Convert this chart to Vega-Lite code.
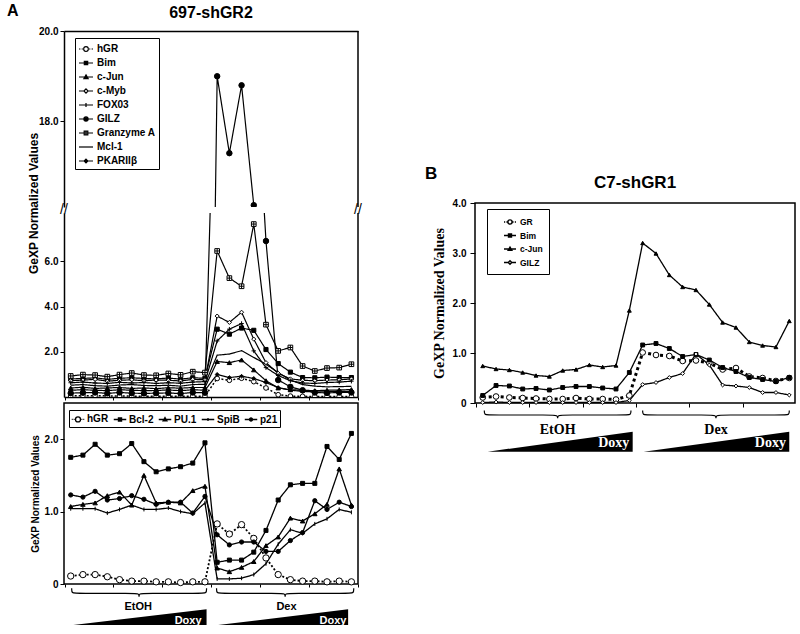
{
"$schema":"https://vega.github.io/schema/vega-lite/v6.json",
"padding":{"left":7,"top":3,"right":0,"bottom":0},
"background":"white",
"config":{
 "font":"Liberation Sans",
 "view":{"stroke":null},
 "axis":{"grid":false,"domainColor":"black","domainWidth":1.5,"tickColor":"black","tickWidth":1,"tickSize":4,"labelPadding":2,"labelColor":"black","labelFont":"Liberation Sans","labelFontWeight":"bold","labelFontSize":10,"titleColor":"black","titleFont":"Liberation Sans","titleFontWeight":"bold","titleFontSize":11},
 "title":{"font":"Liberation Sans","fontWeight":"bold","color":"black","fontSize":16},
 "legend":{"strokeColor":"black","fillColor":"white","labelFont":"Liberation Sans","labelFontWeight":"bold","labelColor":"black","cornerRadius":0,"symbolStrokeColor":"black","symbolOpacity":1}
},
"datasets":{
"a1":[
{"s":"hGR","i":0,"v":0.05},{"s":"hGR","i":1,"v":0.06},{"s":"hGR","i":2,"v":0.06},{"s":"hGR","i":3,"v":0.05},{"s":"hGR","i":4,"v":0.04},{"s":"hGR","i":5,"v":0.04},{"s":"hGR","i":6,"v":0.03},{"s":"hGR","i":7,"v":0.03},{"s":"hGR","i":8,"v":0.04},{"s":"hGR","i":9,"v":0.03},{"s":"hGR","i":10,"v":0.03},{"s":"hGR","i":11,"v":0.04},{"s":"hGR","i":12,"v":0.82},{"s":"hGR","i":13,"v":0.74},{"s":"hGR","i":14,"v":0.83},{"s":"hGR","i":15,"v":0.68},{"s":"hGR","i":16,"v":0.4},{"s":"hGR","i":17,"v":0.1},{"s":"hGR","i":18,"v":0.04},{"s":"hGR","i":19,"v":0.03},{"s":"hGR","i":20,"v":0.02},{"s":"hGR","i":21,"v":0.03},{"s":"hGR","i":22,"v":0.02},{"s":"hGR","i":23,"v":0.02},
{"s":"Bim","i":0,"v":0.8},{"s":"Bim","i":1,"v":0.82},{"s":"Bim","i":2,"v":0.85},{"s":"Bim","i":3,"v":0.78},{"s":"Bim","i":4,"v":0.83},{"s":"Bim","i":5,"v":0.85},{"s":"Bim","i":6,"v":0.82},{"s":"Bim","i":7,"v":0.8},{"s":"Bim","i":8,"v":0.84},{"s":"Bim","i":9,"v":0.79},{"s":"Bim","i":10,"v":0.85},{"s":"Bim","i":11,"v":0.83},{"s":"Bim","i":12,"v":3.0},{"s":"Bim","i":13,"v":2.78},{"s":"Bim","i":14,"v":3.05},{"s":"Bim","i":15,"v":2.95},{"s":"Bim","i":16,"v":2.1},{"s":"Bim","i":17,"v":1.48},{"s":"Bim","i":18,"v":1.1},{"s":"Bim","i":19,"v":0.86},{"s":"Bim","i":20,"v":0.85},{"s":"Bim","i":21,"v":0.88},{"s":"Bim","i":22,"v":0.86},{"s":"Bim","i":23,"v":0.86},
{"s":"c-Jun","i":0,"v":0.4},{"s":"c-Jun","i":1,"v":0.43},{"s":"c-Jun","i":2,"v":0.38},{"s":"c-Jun","i":3,"v":0.4},{"s":"c-Jun","i":4,"v":0.42},{"s":"c-Jun","i":5,"v":0.38},{"s":"c-Jun","i":6,"v":0.4},{"s":"c-Jun","i":7,"v":0.37},{"s":"c-Jun","i":8,"v":0.41},{"s":"c-Jun","i":9,"v":0.39},{"s":"c-Jun","i":10,"v":0.42},{"s":"c-Jun","i":11,"v":0.42},{"s":"c-Jun","i":12,"v":1.57},{"s":"c-Jun","i":13,"v":1.52},{"s":"c-Jun","i":14,"v":1.64},{"s":"c-Jun","i":15,"v":1.2},{"s":"c-Jun","i":16,"v":0.72},{"s":"c-Jun","i":17,"v":0.4},{"s":"c-Jun","i":18,"v":0.32},{"s":"c-Jun","i":19,"v":0.3},{"s":"c-Jun","i":20,"v":0.28},{"s":"c-Jun","i":21,"v":0.3},{"s":"c-Jun","i":22,"v":0.31},{"s":"c-Jun","i":23,"v":0.33},
{"s":"c-Myb","i":0,"v":0.72},{"s":"c-Myb","i":1,"v":0.75},{"s":"c-Myb","i":2,"v":0.78},{"s":"c-Myb","i":3,"v":0.7},{"s":"c-Myb","i":4,"v":0.74},{"s":"c-Myb","i":5,"v":0.76},{"s":"c-Myb","i":6,"v":0.72},{"s":"c-Myb","i":7,"v":0.75},{"s":"c-Myb","i":8,"v":0.74},{"s":"c-Myb","i":9,"v":0.71},{"s":"c-Myb","i":10,"v":0.78},{"s":"c-Myb","i":11,"v":0.76},{"s":"c-Myb","i":12,"v":3.58},{"s":"c-Myb","i":13,"v":3.3},{"s":"c-Myb","i":14,"v":3.75},{"s":"c-Myb","i":15,"v":2.56},{"s":"c-Myb","i":16,"v":1.52},{"s":"c-Myb","i":17,"v":1.05},{"s":"c-Myb","i":18,"v":0.8},{"s":"c-Myb","i":19,"v":0.74},{"s":"c-Myb","i":20,"v":0.72},{"s":"c-Myb","i":21,"v":0.75},{"s":"c-Myb","i":22,"v":0.76},{"s":"c-Myb","i":23,"v":0.8},
{"s":"FOX03","i":0,"v":0.63},{"s":"FOX03","i":1,"v":0.66},{"s":"FOX03","i":2,"v":0.62},{"s":"FOX03","i":3,"v":0.6},{"s":"FOX03","i":4,"v":0.65},{"s":"FOX03","i":5,"v":0.62},{"s":"FOX03","i":6,"v":0.64},{"s":"FOX03","i":7,"v":0.6},{"s":"FOX03","i":8,"v":0.63},{"s":"FOX03","i":9,"v":0.61},{"s":"FOX03","i":10,"v":0.66},{"s":"FOX03","i":11,"v":0.68},{"s":"FOX03","i":12,"v":2.48},{"s":"FOX03","i":13,"v":3.0},{"s":"FOX03","i":14,"v":3.25},{"s":"FOX03","i":15,"v":2.04},{"s":"FOX03","i":16,"v":1.3},{"s":"FOX03","i":17,"v":0.95},{"s":"FOX03","i":18,"v":0.72},{"s":"FOX03","i":19,"v":0.62},{"s":"FOX03","i":20,"v":0.6},{"s":"FOX03","i":21,"v":0.64},{"s":"FOX03","i":22,"v":0.66},{"s":"FOX03","i":23,"v":0.7},
{"s":"GILZ","i":0,"v":0.17},{"s":"GILZ","i":1,"v":0.19},{"s":"GILZ","i":2,"v":0.2},{"s":"GILZ","i":3,"v":0.16},{"s":"GILZ","i":4,"v":0.2},{"s":"GILZ","i":5,"v":0.17},{"s":"GILZ","i":6,"v":0.16},{"s":"GILZ","i":7,"v":0.17},{"s":"GILZ","i":8,"v":0.18},{"s":"GILZ","i":9,"v":0.15},{"s":"GILZ","i":10,"v":0.2},{"s":"GILZ","i":11,"v":0.19},{"s":"GILZ","i":12,"v":19.0},{"s":"GILZ","i":13,"v":17.3},{"s":"GILZ","i":14,"v":18.8},{"s":"GILZ","i":15,"v":16.15},{"s":"GILZ","i":16,"v":6.9},{"s":"GILZ","i":17,"v":0.75},{"s":"GILZ","i":18,"v":0.45},{"s":"GILZ","i":19,"v":0.3},{"s":"GILZ","i":20,"v":0.2},{"s":"GILZ","i":21,"v":0.18},{"s":"GILZ","i":22,"v":0.2},{"s":"GILZ","i":23,"v":0.2},
{"s":"Granzyme A","i":0,"v":0.93},{"s":"Granzyme A","i":1,"v":0.99},{"s":"Granzyme A","i":2,"v":0.97},{"s":"Granzyme A","i":3,"v":0.9},{"s":"Granzyme A","i":4,"v":0.99},{"s":"Granzyme A","i":5,"v":1.06},{"s":"Granzyme A","i":6,"v":0.97},{"s":"Granzyme A","i":7,"v":0.96},{"s":"Granzyme A","i":8,"v":1.04},{"s":"Granzyme A","i":9,"v":0.98},{"s":"Granzyme A","i":10,"v":1.12},{"s":"Granzyme A","i":11,"v":1.08},{"s":"Granzyme A","i":12,"v":6.46},{"s":"Granzyme A","i":13,"v":5.26},{"s":"Granzyme A","i":14,"v":4.9},{"s":"Granzyme A","i":15,"v":7.65},{"s":"Granzyme A","i":16,"v":3.2},{"s":"Granzyme A","i":17,"v":2.04},{"s":"Granzyme A","i":18,"v":2.19},{"s":"Granzyme A","i":19,"v":1.37},{"s":"Granzyme A","i":20,"v":1.15},{"s":"Granzyme A","i":21,"v":1.28},{"s":"Granzyme A","i":22,"v":1.3},{"s":"Granzyme A","i":23,"v":1.45},
{"s":"Mcl-1","i":0,"v":0.52},{"s":"Mcl-1","i":1,"v":0.55},{"s":"Mcl-1","i":2,"v":0.5},{"s":"Mcl-1","i":3,"v":0.48},{"s":"Mcl-1","i":4,"v":0.53},{"s":"Mcl-1","i":5,"v":0.55},{"s":"Mcl-1","i":6,"v":0.51},{"s":"Mcl-1","i":7,"v":0.5},{"s":"Mcl-1","i":8,"v":0.52},{"s":"Mcl-1","i":9,"v":0.48},{"s":"Mcl-1","i":10,"v":0.55},{"s":"Mcl-1","i":11,"v":0.56},{"s":"Mcl-1","i":12,"v":1.85},{"s":"Mcl-1","i":13,"v":1.9},{"s":"Mcl-1","i":14,"v":2.05},{"s":"Mcl-1","i":15,"v":1.75},{"s":"Mcl-1","i":16,"v":1.45},{"s":"Mcl-1","i":17,"v":1.08},{"s":"Mcl-1","i":18,"v":0.75},{"s":"Mcl-1","i":19,"v":0.55},{"s":"Mcl-1","i":20,"v":0.48},{"s":"Mcl-1","i":21,"v":0.45},{"s":"Mcl-1","i":22,"v":0.46},{"s":"Mcl-1","i":23,"v":0.47},
{"s":"PKARIIβ","i":0,"v":0.3},{"s":"PKARIIβ","i":1,"v":0.32},{"s":"PKARIIβ","i":2,"v":0.3},{"s":"PKARIIβ","i":3,"v":0.28},{"s":"PKARIIβ","i":4,"v":0.32},{"s":"PKARIIβ","i":5,"v":0.3},{"s":"PKARIIβ","i":6,"v":0.28},{"s":"PKARIIβ","i":7,"v":0.29},{"s":"PKARIIβ","i":8,"v":0.31},{"s":"PKARIIβ","i":9,"v":0.28},{"s":"PKARIIβ","i":10,"v":0.32},{"s":"PKARIIβ","i":11,"v":0.3},{"s":"PKARIIβ","i":12,"v":1.0},{"s":"PKARIIβ","i":13,"v":0.86},{"s":"PKARIIβ","i":14,"v":0.92},{"s":"PKARIIβ","i":15,"v":0.82},{"s":"PKARIIβ","i":16,"v":0.64},{"s":"PKARIIβ","i":17,"v":0.42},{"s":"PKARIIβ","i":18,"v":0.3},{"s":"PKARIIβ","i":19,"v":0.25},{"s":"PKARIIβ","i":20,"v":0.22},{"s":"PKARIIβ","i":21,"v":0.23},{"s":"PKARIIβ","i":22,"v":0.25},{"s":"PKARIIβ","i":23,"v":0.25}
],
"a2":[
{"s":"hGR","i":0,"v":0.11},{"s":"hGR","i":1,"v":0.13},{"s":"hGR","i":2,"v":0.13},{"s":"hGR","i":3,"v":0.1},{"s":"hGR","i":4,"v":0.06},{"s":"hGR","i":5,"v":0.04},{"s":"hGR","i":6,"v":0.04},{"s":"hGR","i":7,"v":0.03},{"s":"hGR","i":8,"v":0.03},{"s":"hGR","i":9,"v":0.02},{"s":"hGR","i":10,"v":0.03},{"s":"hGR","i":11,"v":0.03},{"s":"hGR","i":12,"v":0.83},{"s":"hGR","i":13,"v":0.69},{"s":"hGR","i":14,"v":0.82},{"s":"hGR","i":15,"v":0.63},{"s":"hGR","i":16,"v":0.36},{"s":"hGR","i":17,"v":0.13},{"s":"hGR","i":18,"v":0.06},{"s":"hGR","i":19,"v":0.04},{"s":"hGR","i":20,"v":0.04},{"s":"hGR","i":21,"v":0.03},{"s":"hGR","i":22,"v":0.04},{"s":"hGR","i":23,"v":0.03},
{"s":"Bcl-2","i":0,"v":1.75},{"s":"Bcl-2","i":1,"v":1.78},{"s":"Bcl-2","i":2,"v":1.93},{"s":"Bcl-2","i":3,"v":1.78},{"s":"Bcl-2","i":4,"v":1.8},{"s":"Bcl-2","i":5,"v":1.94},{"s":"Bcl-2","i":6,"v":1.69},{"s":"Bcl-2","i":7,"v":1.55},{"s":"Bcl-2","i":8,"v":1.59},{"s":"Bcl-2","i":9,"v":1.62},{"s":"Bcl-2","i":10,"v":1.67},{"s":"Bcl-2","i":11,"v":1.95},{"s":"Bcl-2","i":12,"v":0.3},{"s":"Bcl-2","i":13,"v":0.33},{"s":"Bcl-2","i":14,"v":0.33},{"s":"Bcl-2","i":15,"v":0.44},{"s":"Bcl-2","i":16,"v":0.74},{"s":"Bcl-2","i":17,"v":1.16},{"s":"Bcl-2","i":18,"v":1.37},{"s":"Bcl-2","i":19,"v":1.39},{"s":"Bcl-2","i":20,"v":1.39},{"s":"Bcl-2","i":21,"v":1.9},{"s":"Bcl-2","i":22,"v":1.72},{"s":"Bcl-2","i":23,"v":2.08},
{"s":"PU.1","i":0,"v":1.07},{"s":"PU.1","i":1,"v":1.1},{"s":"PU.1","i":2,"v":1.12},{"s":"PU.1","i":3,"v":1.22},{"s":"PU.1","i":4,"v":1.27},{"s":"PU.1","i":5,"v":1.09},{"s":"PU.1","i":6,"v":1.5},{"s":"PU.1","i":7,"v":1.12},{"s":"PU.1","i":8,"v":1.13},{"s":"PU.1","i":9,"v":1.12},{"s":"PU.1","i":10,"v":1.29},{"s":"PU.1","i":11,"v":1.35},{"s":"PU.1","i":12,"v":0.22},{"s":"PU.1","i":13,"v":0.17},{"s":"PU.1","i":14,"v":0.23},{"s":"PU.1","i":15,"v":0.31},{"s":"PU.1","i":16,"v":0.53},{"s":"PU.1","i":17,"v":0.65},{"s":"PU.1","i":18,"v":0.91},{"s":"PU.1","i":19,"v":0.87},{"s":"PU.1","i":20,"v":0.97},{"s":"PU.1","i":21,"v":1.1},{"s":"PU.1","i":22,"v":1.59},{"s":"PU.1","i":23,"v":1.09},
{"s":"SpiB","i":0,"v":1.04},{"s":"SpiB","i":1,"v":1.04},{"s":"SpiB","i":2,"v":1.04},{"s":"SpiB","i":3,"v":0.98},{"s":"SpiB","i":4,"v":1.03},{"s":"SpiB","i":5,"v":1.09},{"s":"SpiB","i":6,"v":1.03},{"s":"SpiB","i":7,"v":1.03},{"s":"SpiB","i":8,"v":1.05},{"s":"SpiB","i":9,"v":1.0},{"s":"SpiB","i":10,"v":0.97},{"s":"SpiB","i":11,"v":1.12},{"s":"SpiB","i":12,"v":0.07},{"s":"SpiB","i":13,"v":0.07},{"s":"SpiB","i":14,"v":0.08},{"s":"SpiB","i":15,"v":0.13},{"s":"SpiB","i":16,"v":0.28},{"s":"SpiB","i":17,"v":0.55},{"s":"SpiB","i":18,"v":0.75},{"s":"SpiB","i":19,"v":0.7},{"s":"SpiB","i":20,"v":0.83},{"s":"SpiB","i":21,"v":0.9},{"s":"SpiB","i":22,"v":1.03},{"s":"SpiB","i":23,"v":0.99},
{"s":"p21","i":0,"v":1.23},{"s":"p21","i":1,"v":1.2},{"s":"p21","i":2,"v":1.28},{"s":"p21","i":3,"v":1.16},{"s":"p21","i":4,"v":1.18},{"s":"p21","i":5,"v":1.22},{"s":"p21","i":6,"v":1.17},{"s":"p21","i":7,"v":1.1},{"s":"p21","i":8,"v":1.13},{"s":"p21","i":9,"v":1.13},{"s":"p21","i":10,"v":0.98},{"s":"p21","i":11,"v":1.21},{"s":"p21","i":12,"v":0.68},{"s":"p21","i":13,"v":0.54},{"s":"p21","i":14,"v":0.58},{"s":"p21","i":15,"v":0.58},{"s":"p21","i":16,"v":0.45},{"s":"p21","i":17,"v":0.45},{"s":"p21","i":18,"v":0.6},{"s":"p21","i":19,"v":0.71},{"s":"p21","i":20,"v":1.15},{"s":"p21","i":21,"v":1.03},{"s":"p21","i":22,"v":1.13},{"s":"p21","i":23,"v":1.07}
],
"b":[
{"s":"GR","i":0,"v":0.11},{"s":"GR","i":1,"v":0.13},{"s":"GR","i":2,"v":0.11},{"s":"GR","i":3,"v":0.1},{"s":"GR","i":4,"v":0.09},{"s":"GR","i":5,"v":0.08},{"s":"GR","i":6,"v":0.08},{"s":"GR","i":7,"v":0.1},{"s":"GR","i":8,"v":0.08},{"s":"GR","i":9,"v":0.08},{"s":"GR","i":10,"v":0.07},{"s":"GR","i":11,"v":0.15},{"s":"GR","i":12,"v":1.01},{"s":"GR","i":13,"v":0.96},{"s":"GR","i":14,"v":0.94},{"s":"GR","i":15,"v":0.84},{"s":"GR","i":16,"v":0.85},{"s":"GR","i":17,"v":0.8},{"s":"GR","i":18,"v":0.67},{"s":"GR","i":19,"v":0.7},{"s":"GR","i":20,"v":0.53},{"s":"GR","i":21,"v":0.5},{"s":"GR","i":22,"v":0.44},{"s":"GR","i":23,"v":0.5},
{"s":"Bim","i":0,"v":0.15},{"s":"Bim","i":1,"v":0.35},{"s":"Bim","i":2,"v":0.34},{"s":"Bim","i":3,"v":0.28},{"s":"Bim","i":4,"v":0.29},{"s":"Bim","i":5,"v":0.26},{"s":"Bim","i":6,"v":0.31},{"s":"Bim","i":7,"v":0.33},{"s":"Bim","i":8,"v":0.33},{"s":"Bim","i":9,"v":0.3},{"s":"Bim","i":10,"v":0.28},{"s":"Bim","i":11,"v":0.61},{"s":"Bim","i":12,"v":1.16},{"s":"Bim","i":13,"v":1.19},{"s":"Bim","i":14,"v":1.09},{"s":"Bim","i":15,"v":0.93},{"s":"Bim","i":16,"v":0.97},{"s":"Bim","i":17,"v":0.86},{"s":"Bim","i":18,"v":0.71},{"s":"Bim","i":19,"v":0.63},{"s":"Bim","i":20,"v":0.51},{"s":"Bim","i":21,"v":0.47},{"s":"Bim","i":22,"v":0.43},{"s":"Bim","i":23,"v":0.51},
{"s":"c-Jun","i":0,"v":0.74},{"s":"c-Jun","i":1,"v":0.68},{"s":"c-Jun","i":2,"v":0.66},{"s":"c-Jun","i":3,"v":0.61},{"s":"c-Jun","i":4,"v":0.55},{"s":"c-Jun","i":5,"v":0.53},{"s":"c-Jun","i":6,"v":0.65},{"s":"c-Jun","i":7,"v":0.67},{"s":"c-Jun","i":8,"v":0.76},{"s":"c-Jun","i":9,"v":0.72},{"s":"c-Jun","i":10,"v":0.75},{"s":"c-Jun","i":11,"v":1.85},{"s":"c-Jun","i":12,"v":3.2},{"s":"c-Jun","i":13,"v":2.99},{"s":"c-Jun","i":14,"v":2.56},{"s":"c-Jun","i":15,"v":2.32},{"s":"c-Jun","i":16,"v":2.26},{"s":"c-Jun","i":17,"v":1.97},{"s":"c-Jun","i":18,"v":1.61},{"s":"c-Jun","i":19,"v":1.51},{"s":"c-Jun","i":20,"v":1.22},{"s":"c-Jun","i":21,"v":1.15},{"s":"c-Jun","i":22,"v":1.12},{"s":"c-Jun","i":23,"v":1.64},
{"s":"GILZ","i":0,"v":0.01},{"s":"GILZ","i":1,"v":0.02},{"s":"GILZ","i":2,"v":0.01},{"s":"GILZ","i":3,"v":0.01},{"s":"GILZ","i":4,"v":0.01},{"s":"GILZ","i":5,"v":0.01},{"s":"GILZ","i":6,"v":0.01},{"s":"GILZ","i":7,"v":0.01},{"s":"GILZ","i":8,"v":0.01},{"s":"GILZ","i":9,"v":0.01},{"s":"GILZ","i":10,"v":0.01},{"s":"GILZ","i":11,"v":0.05},{"s":"GILZ","i":12,"v":0.37},{"s":"GILZ","i":13,"v":0.41},{"s":"GILZ","i":14,"v":0.51},{"s":"GILZ","i":15,"v":0.59},{"s":"GILZ","i":16,"v":0.98},{"s":"GILZ","i":17,"v":0.76},{"s":"GILZ","i":18,"v":0.36},{"s":"GILZ","i":19,"v":0.34},{"s":"GILZ","i":20,"v":0.31},{"s":"GILZ","i":21,"v":0.21},{"s":"GILZ","i":22,"v":0.21},{"s":"GILZ","i":23,"v":0.16}
],
"braceA":[
{"g":"e","x":0.08,"y":-1.7},{"g":"e","x":0.08,"y":3.3},{"g":"e","x":0.5,"y":3.3},{"g":"e","x":5.2,"y":3.3},{"g":"e","x":5.6,"y":3.3},{"g":"e","x":5.6,"y":8.4},{"g":"e","x":5.6,"y":3.3},{"g":"e","x":6.0,"y":3.3},{"g":"e","x":10.71,"y":3.3},{"g":"e","x":11.13,"y":3.3},{"g":"e","x":11.13,"y":-1.7},
{"g":"d","x":11.95,"y":-1.7},{"g":"d","x":11.95,"y":3.3},{"g":"d","x":12.37,"y":3.3},{"g":"d","x":17.17,"y":3.3},{"g":"d","x":17.57,"y":3.3},{"g":"d","x":17.57,"y":8.4},{"g":"d","x":17.57,"y":3.3},{"g":"d","x":17.97,"y":3.3},{"g":"d","x":22.77,"y":3.3},{"g":"d","x":23.19,"y":3.3},{"g":"d","x":23.19,"y":-1.7}
],
"triA":[{"g":"e","x":0.21,"y":35},{"g":"e","x":11.13,"y":19.3},{"g":"d","x":12.08,"y":35},{"g":"d","x":22.73,"y":19.3}],
"txtA":[{"x":5.53,"y":16.7,"t":"EtOH"},{"x":17.68,"y":16.7,"t":"Dex"},{"x":10.72,"y":30.7,"t":"Doxy"},{"x":22.59,"y":30.7,"t":"Doxy"}],
"braceB":[
{"g":"e","x":0.12,"y":3.5},{"g":"e","x":0.12,"y":8},{"g":"e","x":0.5,"y":8},{"g":"e","x":5.24,"y":8},{"g":"e","x":5.62,"y":8},{"g":"e","x":5.62,"y":13},{"g":"e","x":5.62,"y":8},{"g":"e","x":6.0,"y":8},{"g":"e","x":10.74,"y":8},{"g":"e","x":11.12,"y":8},{"g":"e","x":11.12,"y":3.5},
{"g":"d","x":12.0,"y":3.5},{"g":"d","x":12.0,"y":8},{"g":"d","x":12.38,"y":8},{"g":"d","x":17.12,"y":8},{"g":"d","x":17.5,"y":8},{"g":"d","x":17.5,"y":13},{"g":"d","x":17.5,"y":8},{"g":"d","x":17.88,"y":8},{"g":"d","x":22.62,"y":8},{"g":"d","x":23.0,"y":8},{"g":"d","x":23.0,"y":3.5}
],
"triB":[{"g":"e","x":0.37,"y":44.7},{"g":"e","x":11.25,"y":24.7},{"g":"d","x":12.07,"y":44.7},{"g":"d","x":23.0,"y":24.7}],
"txtB":[{"x":5.62,"y":23,"t":"EtOH"},{"x":17.5,"y":23,"t":"Dex"},{"x":11.0,"y":36.3,"t":"Doxy"},{"x":22.75,"y":36.3,"t":"Doxy"}]
},
"hconcat":[
{
"vconcat":[
 {"width":294,"height":1,"data":{"values":[]},"mark":"point","encoding":{},"title":{"text":"A","anchor":"start","dx":-57,"fontSize":16,"offset":5}},
 {"width":294,"height":176,
  "title":{"text":"697-shGR2","fontSize":16,"offset":5},
  "data":{"name":"a1"},
  "resolve":{"scale":{"shape":"independent","fill":"independent","stroke":"independent"}},
  "layer":[
   {"mark":{"type":"line","clip":true,"color":"black"},
    "encoding":{
     "x":{"field":"i","type":"quantitative","scale":{"domain":[-0.55,23.54],"nice":false,"zero":false},"axis":{"orient":"top","labels":false,"ticks":false,"title":null}},
     "y":{"field":"v","type":"quantitative","scale":{"domain":[16.11,20],"nice":false,"zero":false},"axis":{"values":[18,20],"format":".1f","title":null}},
     "strokeDash":{"field":"s","type":"nominal","scale":{"domain":["PKARIIβ","Mcl-1","Granzyme A","GILZ","FOX03","c-Myb","c-Jun","Bim","hGR"],"range":[[1,0],[1,0],[1,0],[1,0],[1,0],[1,0],[1,0],[1,0],[2,2]]},"legend":null},
     "strokeWidth":{"condition":{"test":"datum.s == 'hGR'","value":1.5},"value":1.2}
    }},
   {"transform":[{"filter":"datum.s != 'Mcl-1'"}],
    "mark":{"type":"point","clip":true,"filled":true,"stroke":"black","strokeWidth":1,"opacity":1},
    "encoding":{
     "x":{"field":"i","type":"quantitative"},
     "y":{"field":"v","type":"quantitative"},
     "shape":{"field":"s","type":"nominal","scale":{"domain":["hGR","Bim","c-Jun","c-Myb","FOX03","GILZ","Granzyme A","Mcl-1","PKARIIβ"],"range":["circle","square","triangle-up","diamond","M-1,0H1M0,-1V1","circle","M-1,-1H1V1H-1ZM0,-1V1M-1,0H1","circle","diamond"]},"legend":null},
     "fill":{"field":"s","type":"nominal","scale":{"domain":["PKARIIβ","Mcl-1","Granzyme A","GILZ","FOX03","c-Myb","c-Jun","Bim","hGR"],"range":["black","white","white","black","white","white","black","black","white"]},"legend":null},
     "size":{"condition":[{"test":"datum.s == 'GILZ'","value":30},{"test":"datum.s == 'hGR' || datum.s == 'Granzyme A'","value":22},{"test":"datum.s == 'c-Jun' || datum.s == 'FOX03'","value":20},{"test":"datum.s == 'PKARIIβ'","value":14}],"value":17}
    }},
   {"transform":[{"filter":"datum.i < 0"}],
    "mark":{"type":"point","filled":true,"strokeWidth":1.2,"opacity":1},
    "encoding":{
     "x":{"field":"i","type":"quantitative"},
     "y":{"field":"v","type":"quantitative"},
     "shape":{"field":"s","type":"nominal","scale":{"domain":["hGR","Bim","c-Jun","c-Myb","FOX03","GILZ","Granzyme A","Mcl-1","PKARIIβ"],"range":["M-1,0H-0.8M-0.62,0H-0.44M0.44,0H0.62M0.8,0H1M0.33,0A0.33,0.33,0,1,1,-0.33,0A0.33,0.33,0,1,1,0.33,0Z","M-1,0H1M-0.24,-0.24H0.24V0.24H-0.24Z","M-1,0H1M0,-0.3L0.3,0.22H-0.3Z","M-1,0H-0.3M0.3,0H1M0,-0.3L0.3,0L0,0.3L-0.3,0Z","M-1,0H1M0,-0.3V0.3","M-1,0H1M0.3,0A0.3,0.3,0,1,1,-0.3,0A0.3,0.3,0,1,1,0.3,0Z","M-1,0H-0.26M0.26,0H1M-0.26,-0.26H0.26V0.26H-0.26ZM0,-0.26V0.26M-0.26,0H0.26","M-1,0H1","M-1,0H1M0,-0.26L0.26,0L0,0.26L-0.26,0Z"]},
      "legend":{"title":null,"orient":"none","legendX":11,"legendY":7,"padding":3,"labelFontSize":10,"labelOffset":3,"rowPadding":1,"symbolSize":196,"symbolStrokeWidth":1.2}},
     "fill":{"field":"s","type":"nominal","scale":{"domain":["hGR","Bim","c-Jun","c-Myb","FOX03","GILZ","Granzyme A","Mcl-1","PKARIIβ"],"range":["white","black","black","white","white","black","white","white","black"]},
      "legend":{"title":null,"orient":"none","legendX":11,"legendY":7,"padding":3,"labelFontSize":10,"labelOffset":3,"rowPadding":1,"symbolSize":196,"symbolStrokeWidth":1.2}},
     "stroke":{"field":"s","type":"nominal","scale":{"domain":["hGR","Bim","c-Jun","c-Myb","FOX03","GILZ","Granzyme A","Mcl-1","PKARIIβ"],"range":["black","black","black","black","black","black","black","black","black"]},
      "legend":{"title":null,"orient":"none","legendX":11,"legendY":7,"padding":3,"labelFontSize":10,"labelOffset":3,"rowPadding":1,"symbolSize":196,"symbolStrokeWidth":1.2}}
    }},
   {"data":{"values":[{}]},"mark":{"type":"rule","color":"black","strokeWidth":1.5},"encoding":{"x":{"datum":23.54}}}
  ]},
 {"width":294,"height":184,
  "data":{"name":"a1"},
  "layer":[
   {"mark":{"type":"line","clip":true,"color":"black"},
    "encoding":{
     "x":{"field":"i","type":"quantitative","scale":{"domain":[-0.55,23.54],"nice":false,"zero":false},"axis":{"labels":false,"title":null,"tickSize":3,"values":[-0.5,0.5,1.5,2.5,3.5,4.5,5.5,6.5,7.5,8.5,9.5,10.5,11.5,12.5,13.5,14.5,15.5,16.5,17.5,18.5,19.5,20.5,21.5,22.5,23.5]}},
     "y":{"field":"v","type":"quantitative","scale":{"domain":[0,8.14],"nice":false,"zero":false},"axis":{"values":[2,4,6],"format":".1f","title":"GeXP Normalized Values","titleY":-10,"titleFontSize":12}},
     "strokeDash":{"field":"s","type":"nominal","scale":{"domain":["PKARIIβ","Mcl-1","Granzyme A","GILZ","FOX03","c-Myb","c-Jun","Bim","hGR"],"range":[[1,0],[1,0],[1,0],[1,0],[1,0],[1,0],[1,0],[1,0],[2,2]]},"legend":null},
     "strokeWidth":{"condition":{"test":"datum.s == 'hGR'","value":1.5},"value":1.2}
    }},
   {"transform":[{"filter":"datum.s != 'Mcl-1'"}],
    "mark":{"type":"point","clip":true,"filled":true,"stroke":"black","strokeWidth":1,"opacity":1},
    "encoding":{
     "x":{"field":"i","type":"quantitative"},
     "y":{"field":"v","type":"quantitative"},
     "shape":{"field":"s","type":"nominal","scale":{"domain":["hGR","Bim","c-Jun","c-Myb","FOX03","GILZ","Granzyme A","Mcl-1","PKARIIβ"],"range":["circle","square","triangle-up","diamond","M-1,0H1M0,-1V1","circle","M-1,-1H1V1H-1ZM0,-1V1M-1,0H1","circle","diamond"]},"legend":null},
     "fill":{"field":"s","type":"nominal","scale":{"domain":["PKARIIβ","Mcl-1","Granzyme A","GILZ","FOX03","c-Myb","c-Jun","Bim","hGR"],"range":["black","white","white","black","white","white","black","black","white"]},"legend":null},
     "size":{"condition":[{"test":"datum.s == 'GILZ'","value":30},{"test":"datum.s == 'hGR' || datum.s == 'Granzyme A'","value":22},{"test":"datum.s == 'c-Jun' || datum.s == 'FOX03'","value":20},{"test":"datum.s == 'PKARIIβ'","value":14}],"value":17}
    }},
   {"data":{"values":[{}]},"mark":{"type":"rule","color":"black","strokeWidth":1.5},"encoding":{"x":{"datum":23.54}}},
   {"data":{"values":[{}]},"mark":{"type":"text","text":"//","fontSize":14,"dy":-3},"encoding":{"x":{"datum":-0.55},"y":{"datum":8.14}}},
   {"data":{"values":[{}]},"mark":{"type":"text","text":"//","fontSize":14,"dy":-3},"encoding":{"x":{"datum":23.54},"y":{"datum":8.14}}}
  ]},
 {"width":294,"height":181,
  "view":{"stroke":"black","strokeWidth":1.5},
  "data":{"name":"a2"},
  "resolve":{"scale":{"shape":"independent","fill":"independent","stroke":"independent"}},
  "layer":[
   {"mark":{"type":"line","color":"black"},
    "encoding":{
     "x":{"field":"i","type":"quantitative","scale":{"domain":[-0.55,23.54],"nice":false,"zero":false},"axis":{"labels":false,"title":null,"domain":false,"tickSize":3,"values":[-0.5,0.5,1.5,2.5,3.5,4.5,5.5,6.5,7.5,8.5,9.5,10.5,11.5,12.5,13.5,14.5,15.5,16.5,17.5,18.5,19.5,20.5,21.5,22.5,23.5]}},
     "y":{"field":"v","type":"quantitative","scale":{"domain":[0,2.5],"nice":false,"zero":false},"axis":{"values":[0,0.5,1,1.5,2,2.5],"labelExpr":"datum.value == 0 ? '0' : format(datum.value, '.1f')","title":"GeXP Normalized Values","titleFontSize":10,"domain":false}},
     "strokeDash":{"field":"s","type":"nominal","scale":{"domain":["p21","SpiB","PU.1","Bcl-2","hGR"],"range":[[1,0],[1,0],[1,0],[1,0],[2,2]]},"legend":null},
     "strokeWidth":{"condition":{"test":"datum.s == 'hGR'","value":1.8},"value":1.3}
    }},
   {"mark":{"type":"point","filled":true,"stroke":"black","strokeWidth":1,"opacity":1},
    "encoding":{
     "x":{"field":"i","type":"quantitative"},
     "y":{"field":"v","type":"quantitative"},
     "shape":{"field":"s","type":"nominal","scale":{"domain":["hGR","Bcl-2","PU.1","SpiB","p21"],"range":["circle","square","triangle-up","M0,-1V1","circle"]},"legend":null},
     "fill":{"field":"s","type":"nominal","scale":{"domain":["p21","SpiB","PU.1","Bcl-2","hGR"],"range":["black","black","black","black","white"]},"legend":null},
     "size":{"condition":[{"test":"datum.s == 'hGR'","value":40},{"test":"datum.s == 'PU.1'","value":20},{"test":"datum.s == 'p21'","value":18}],"value":16}
    }},
   {"transform":[{"filter":"datum.i < 0"}],
    "mark":{"type":"point","filled":true,"strokeWidth":1.3,"opacity":1},
    "encoding":{
     "x":{"field":"i","type":"quantitative"},
     "y":{"field":"v","type":"quantitative"},
     "shape":{"field":"s","type":"nominal","scale":{"domain":["hGR","Bcl-2","PU.1","SpiB","p21"],"range":["M-1,0H-0.85M-0.7,0H-0.55M0.55,0H0.7M0.85,0H1M0.4,0A0.4,0.4,0,1,1,-0.4,0A0.4,0.4,0,1,1,0.4,0Z","M-1,0H1M-0.25,-0.25H0.25V0.25H-0.25Z","M-1,0H1M0,-0.3L0.3,0.22H-0.3Z","M-1,0H1M0,-0.25V0.25","M-1,0H1M0.25,0A0.25,0.25,0,1,1,-0.25,0A0.25,0.25,0,1,1,0.25,0Z"]},
      "legend":{"title":null,"orient":"none","legendX":5,"legendY":7,"direction":"horizontal","padding":2,"labelFontSize":10,"labelOffset":2,"columnPadding":2,"symbolSize":156,"symbolStrokeWidth":1.3}},
     "fill":{"field":"s","type":"nominal","scale":{"domain":["hGR","Bcl-2","PU.1","SpiB","p21"],"range":["white","black","black","black","black"]},
      "legend":{"title":null,"orient":"none","legendX":5,"legendY":7,"direction":"horizontal","padding":2,"labelFontSize":10,"labelOffset":2,"columnPadding":2,"symbolSize":156,"symbolStrokeWidth":1.3}},
     "stroke":{"field":"s","type":"nominal","scale":{"domain":["hGR","Bcl-2","PU.1","SpiB","p21"],"range":["black","black","black","black","black"]},
      "legend":{"title":null,"orient":"none","legendX":5,"legendY":7,"direction":"horizontal","padding":2,"labelFontSize":10,"labelOffset":2,"columnPadding":2,"symbolSize":156,"symbolStrokeWidth":1.3}}
    }}
  ]},
 {"width":294,"height":44,
  "layer":[
   {"data":{"name":"braceA"},"mark":{"type":"line","interpolate":"basis","color":"black","strokeWidth":1.2},
    "encoding":{"x":{"field":"x","type":"quantitative","scale":{"domain":[-0.55,23.54],"nice":false,"zero":false},"axis":null},"y":{"field":"y","type":"quantitative","scale":{"domain":[0,44],"reverse":true,"nice":false,"zero":false},"axis":null},"detail":{"field":"g"},"order":{"value":null}}},
   {"data":{"name":"triA"},"mark":{"type":"area","color":"black"},
    "encoding":{"x":{"field":"x","type":"quantitative"},"y":{"field":"y","type":"quantitative"},"y2":{"datum":35},"detail":{"field":"g"}}},
   {"data":{"name":"txtA"},"transform":[{"filter":"datum.t != 'Doxy'"}],"mark":{"type":"text","fontWeight":"bold","fontSize":11,"baseline":"middle","color":"black"},
    "encoding":{"x":{"field":"x","type":"quantitative"},"y":{"field":"y","type":"quantitative"},"text":{"field":"t"}}},
   {"data":{"name":"txtA"},"transform":[{"filter":"datum.t == 'Doxy'"}],"mark":{"type":"text","fontWeight":"bold","fontSize":11,"baseline":"middle","align":"right","color":"white"},
    "encoding":{"x":{"field":"x","type":"quantitative"},"y":{"field":"y","type":"quantitative"},"text":{"field":"t"}}}
  ]}
],
"spacing":6,
"bounds":"flush",
"resolve":{"scale":{"x":"independent","y":"independent","shape":"independent","fill":"independent","stroke":"independent","size":"independent","strokeDash":"independent","strokeWidth":"independent"}}
},
{
"vconcat":[
 {"width":320,"height":175,"data":{"values":[]},"mark":"point","encoding":{},"title":{"text":"B","anchor":"start","orient":"bottom","dx":-50,"dy":-37,"fontSize":17}},
 {"width":320,"height":200,
  "title":{"text":"C7-shGR1","fontSize":17,"offset":6},
  "view":{"stroke":"black","strokeWidth":1.5},
  "data":{"name":"b"},
  "resolve":{"scale":{"shape":"independent","fill":"independent","stroke":"independent"}},
  "layer":[
   {"mark":{"type":"line","color":"black"},
    "encoding":{
     "x":{"field":"i","type":"quantitative","scale":{"domain":[-0.58,23.43],"nice":false,"zero":false},"axis":{"labels":false,"title":null,"domain":false,"tickSize":4,"values":[-0.5,0.5,1.5,2.5,3.5,4.5,5.5,6.5,7.5,8.5,9.5,10.5,11.5,12.5,13.5,14.5,15.5,16.5,17.5,18.5,19.5,20.5,21.5,22.5]}},
     "y":{"field":"v","type":"quantitative","scale":{"domain":[0,4],"nice":false,"zero":false},"axis":{"values":[0,1,2,3,4],"labelExpr":"datum.value == 0 ? '0' : format(datum.value, '.1f')","title":"GeXP Normalized Values","titleFont":"Liberation Serif","titleFontSize":14,"titlePadding":6,"domain":false,"tickSize":5,"labelPadding":4}},
     "strokeDash":{"field":"s","type":"nominal","scale":{"domain":["GILZ","c-Jun","Bim","GR"],"range":[[1,0],[1,0],[1,0],[3,3]]},"legend":null},
     "strokeWidth":{"condition":{"test":"datum.s == 'GR'","value":3},"value":1.3}
    }},
   {"mark":{"type":"point","filled":true,"stroke":"black","strokeWidth":1,"opacity":1},
    "encoding":{
     "x":{"field":"i","type":"quantitative"},
     "y":{"field":"v","type":"quantitative"},
     "shape":{"field":"s","type":"nominal","scale":{"domain":["GR","Bim","c-Jun","GILZ"],"range":["circle","square","triangle-up","diamond"]},"legend":null},
     "fill":{"field":"s","type":"nominal","scale":{"domain":["GILZ","c-Jun","Bim","GR"],"range":["white","black","black","white"]},"legend":null},
     "size":{"condition":{"test":"datum.s == 'GR'","value":32},"value":15}
    }},
   {"transform":[{"filter":"datum.i < 0"}],
    "mark":{"type":"point","filled":true,"strokeWidth":1.4,"opacity":1},
    "encoding":{
     "x":{"field":"i","type":"quantitative"},
     "y":{"field":"v","type":"quantitative"},
     "shape":{"field":"s","type":"nominal","scale":{"domain":["GR","Bim","c-Jun","GILZ"],"range":["M-1,0H-0.8M-0.6,0H-0.45M0.45,0H0.6M0.8,0H1M0.35,0A0.35,0.35,0,1,1,-0.35,0A0.35,0.35,0,1,1,0.35,0Z","M-1,0H1M-0.25,-0.25H0.25V0.25H-0.25Z","M-1,0H1M0,-0.3L0.3,0.22H-0.3Z","M-1,0H-0.3M0.3,0H1M0,-0.3L0.3,0L0,0.3L-0.3,0Z"]},
      "legend":{"title":null,"orient":"none","legendX":12,"legendY":6,"padding":6,"symbolOffset":10,"labelFontSize":8.5,"labelOffset":3,"rowPadding":1.5,"symbolSize":144,"symbolStrokeWidth":1.4}},
     "fill":{"field":"s","type":"nominal","scale":{"domain":["GR","Bim","c-Jun","GILZ"],"range":["white","black","black","white"]},
      "legend":{"title":null,"orient":"none","legendX":12,"legendY":6,"padding":6,"symbolOffset":10,"labelFontSize":8.5,"labelOffset":3,"rowPadding":1.5,"symbolSize":144,"symbolStrokeWidth":1.4}},
     "stroke":{"field":"s","type":"nominal","scale":{"domain":["GR","Bim","c-Jun","GILZ"],"range":["black","black","black","black"]},
      "legend":{"title":null,"orient":"none","legendX":12,"legendY":6,"padding":6,"symbolOffset":10,"labelFontSize":8.5,"labelOffset":3,"rowPadding":1.5,"symbolSize":144,"symbolStrokeWidth":1.4}}
    }}
  ]},
 {"width":320,"height":50,
  "layer":[
   {"data":{"name":"braceB"},"mark":{"type":"line","interpolate":"basis","color":"black","strokeWidth":1.2},
    "encoding":{"x":{"field":"x","type":"quantitative","scale":{"domain":[-0.58,23.43],"nice":false,"zero":false},"axis":null},"y":{"field":"y","type":"quantitative","scale":{"domain":[0,50],"reverse":true,"nice":false,"zero":false},"axis":null},"detail":{"field":"g"},"order":{"value":null}}},
   {"data":{"name":"triB"},"mark":{"type":"area","color":"black"},
    "encoding":{"x":{"field":"x","type":"quantitative"},"y":{"field":"y","type":"quantitative"},"y2":{"datum":44.7},"detail":{"field":"g"}}},
   {"data":{"name":"txtB"},"transform":[{"filter":"datum.t != 'Doxy'"}],"mark":{"type":"text","font":"Liberation Serif","fontWeight":"bold","fontSize":14,"baseline":"middle","color":"black"},
    "encoding":{"x":{"field":"x","type":"quantitative"},"y":{"field":"y","type":"quantitative"},"text":{"field":"t"}}},
   {"data":{"name":"txtB"},"transform":[{"filter":"datum.t == 'Doxy'"}],"mark":{"type":"text","font":"Liberation Serif","fontWeight":"bold","fontSize":14,"baseline":"middle","align":"right","color":"white"},
    "encoding":{"x":{"field":"x","type":"quantitative"},"y":{"field":"y","type":"quantitative"},"text":{"field":"t"}}}
  ]}
],
"spacing":4,
"bounds":"flush",
"resolve":{"scale":{"x":"independent","y":"independent","shape":"independent","fill":"independent","stroke":"independent","size":"independent","strokeDash":"independent","strokeWidth":"independent"}}
}
],
"spacing":63,
"resolve":{"scale":{"x":"independent","y":"independent","shape":"independent","fill":"independent","stroke":"independent","size":"independent","strokeDash":"independent","strokeWidth":"independent"}}
}
